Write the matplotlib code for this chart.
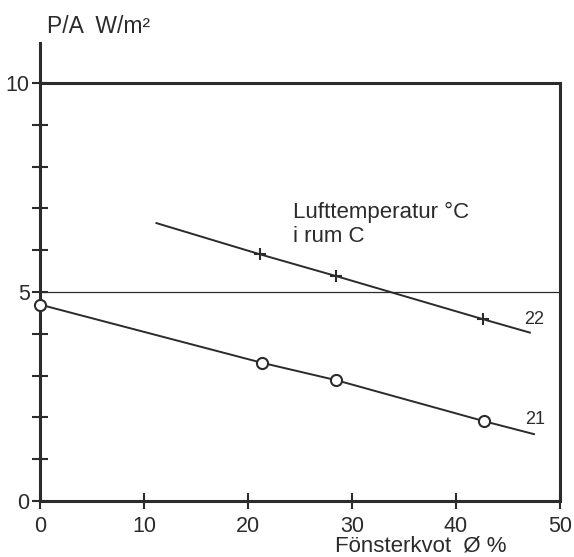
import matplotlib
matplotlib.use("Agg")
import matplotlib.pyplot as plt
from matplotlib.ticker import MultipleLocator

plt.rcParams['font.family'] = ['Liberation Sans', 'DejaVu Sans']

# Kurva 21 (cirklar) - Fönsterkvot i % mot P/A i W/m2
x_21 = [0, 21.3, 28.5, 42.7, 47.5]
y_21 = [4.7, 3.31, 2.89, 1.91, 1.60]
x_21_punkter = [0, 21.3, 28.5, 42.7]
y_21_punkter = [4.7, 3.31, 2.89, 1.91]

# Kurva 22 (kryss)
x_22 = [11.2, 21.2, 28.5, 42.6, 47.1]
y_22 = [6.65, 5.9, 5.38, 4.35, 4.03]
x_22_punkter = [21.2, 28.5, 42.6]
y_22_punkter = [5.9, 5.38, 4.35]

x_ticks = [0, 10, 20, 30, 40, 50]
y_ticks = [0, 5, 10]

ink = '#2b2b2b'
fs = 15.5

fig = plt.figure(figsize=(5.74, 5.57), dpi=100)
W, H = 574, 557
ax = fig.add_axes([40 / W, (H - 501) / H, 520 / W, 458 / H])

ax.set_xlim(0, 50)
ax.set_ylim(0, 10.96)

# Ram: vänster och nedre axel, samt linjer vid 10 och 50
for s in ['top', 'right']:
    ax.spines[s].set_visible(False)
for s in ['left', 'bottom']:
    ax.spines[s].set_linewidth(2.2)
    ax.spines[s].set_color(ink)
ax.axhline(10, color=ink, lw=2.2, clip_on=False)
ax.axvline(50, ymax=10 / 10.96, color=ink, lw=2.2, clip_on=False)
ax.axhline(5, color=ink, lw=0.9)

# Kurvor
ax.plot(x_21, y_21, color=ink, lw=1.4)
ax.plot(x_21_punkter, y_21_punkter, 'o', ms=8, mfc='white', mec=ink, mew=1.5,
        clip_on=False, zorder=5)
ax.plot(x_22, y_22, color=ink, lw=1.4)
ax.plot(x_22_punkter, y_22_punkter, '+', ms=9, mec=ink, mew=1.5)

ax.text(47.5, 4.35, '22', fontsize=13, color=ink, ha='center', va='center')
ax.text(47.6, 1.95, '21', fontsize=13, color=ink, ha='center', va='center')
ax.text(24.3, 6.77, 'Lufttemperatur °C', fontsize=16, color=ink,
        ha='left', va='baseline')
ax.text(24.3, 6.20, 'i rum C', fontsize=16, color=ink,
        ha='left', va='baseline')

# Axlar
ax.set_xticks(x_ticks)
ax.set_xticklabels([str(v) for v in x_ticks])
ax.set_yticks(y_ticks)
ax.set_yticklabels([str(v) for v in y_ticks])
ax.yaxis.set_minor_locator(MultipleLocator(1))
ax.tick_params(axis='both', which='both', direction='inout', color=ink,
               width=1.5, labelsize=fs, labelcolor=ink)
ax.tick_params(axis='y', which='both', length=11, pad=2)
ax.tick_params(axis='x', which='both', length=11, pad=5)

fig.text(47 / W, 1 - 33 / H, 'P/A  W/m²', fontsize=16.5, color=ink,
         ha='left', va='baseline')
fig.text(335 / W, 1 - 551 / H, 'Fönsterkvot  Ø %', fontsize=16, color=ink,
         ha='left', va='baseline')

fig.savefig('out.png', dpi=100, facecolor='white')
